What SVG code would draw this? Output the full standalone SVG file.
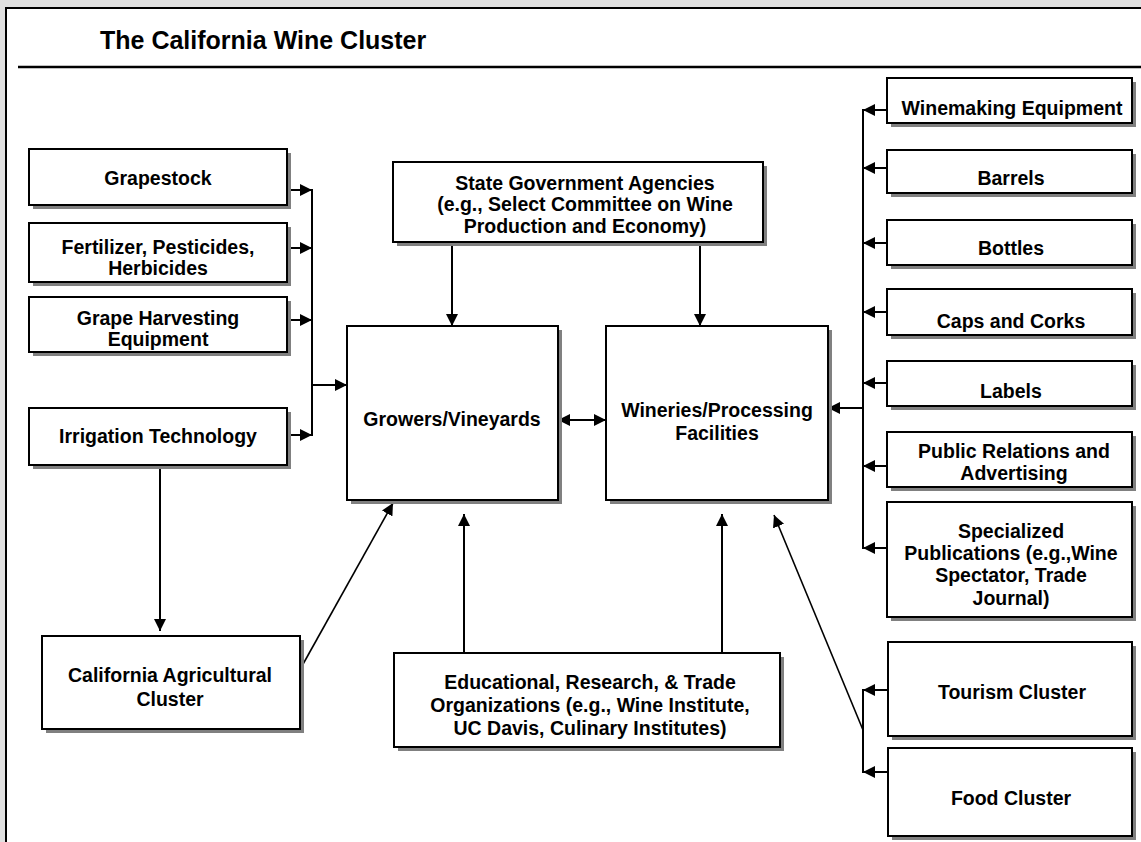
<svg xmlns="http://www.w3.org/2000/svg" width="1141" height="842" viewBox="0 0 1141 842">
  <style>
    .box { fill: #ffffff; stroke: #000000; stroke-width: 2; }
    .shadow { fill: #808080; }
    .lbl { font-family: "Liberation Sans", Arial, sans-serif; font-weight: bold; font-size: 19.5px; fill: #000000; text-anchor: middle; }
    .title { font-family: "Liberation Sans", Arial, sans-serif; font-weight: bold; font-size: 25px; fill: #000000; }
    .wire { stroke: #000000; stroke-width: 2; fill: none; }
    .thin { stroke: #000000; stroke-width: 1.6; fill: none; }
  </style>
  <defs>
    <marker id="ah" viewBox="0 0 12 12" refX="12" refY="6" markerWidth="12" markerHeight="12" markerUnits="userSpaceOnUse" orient="auto-start-reverse">
      <path d="M0,0 L12,6 L0,12 z" fill="#000000"/>
    </marker>
  </defs>

  <!-- page -->
  <rect x="0" y="0" width="1141" height="842" fill="#e0e0e0"/>
  <rect x="6" y="8" width="1150" height="850" fill="#ffffff" stroke="#000000" stroke-width="2"/>
  <text class="title" x="100" y="49">The California Wine Cluster</text>
  <line x1="18" y1="67" x2="1141" y2="67" stroke="#000000" stroke-width="2.5"/>

  <!-- connectors -->
  <g id="connectors">
    <!-- inputs to growers -->
    <line class="wire" x1="287" y1="190" x2="312" y2="190" marker-end="url(#ah)"/>
    <line class="wire" x1="287" y1="248" x2="312" y2="248" marker-end="url(#ah)"/>
    <line class="wire" x1="287" y1="320" x2="312" y2="320" marker-end="url(#ah)"/>
    <line class="wire" x1="287" y1="435" x2="312" y2="435" marker-end="url(#ah)"/>
    <line class="wire" x1="312" y1="189" x2="312" y2="436"/>
    <line class="wire" x1="312" y1="385" x2="347" y2="385" marker-end="url(#ah)"/>
    <!-- government -->
    <line class="wire" x1="452" y1="242" x2="452" y2="326" marker-end="url(#ah)"/>
    <line class="wire" x1="700" y1="242" x2="700" y2="326" marker-end="url(#ah)"/>
    <!-- growers <-> wineries -->
    <line class="wire" x1="558" y1="420" x2="606" y2="420" marker-start="url(#ah)" marker-end="url(#ah)"/>
    <!-- irrigation to agricultural cluster -->
    <line class="wire" x1="160" y1="465" x2="160" y2="631" marker-end="url(#ah)"/>
    <!-- agricultural cluster to growers -->
    <line class="thin" x1="302" y1="666" x2="393" y2="503" marker-end="url(#ah)"/>
    <!-- education -->
    <line class="wire" x1="464" y1="653" x2="464" y2="514" marker-end="url(#ah)"/>
    <line class="wire" x1="722" y1="653" x2="722" y2="514" marker-end="url(#ah)"/>
    <!-- suppliers to wineries -->
    <line class="wire" x1="887" y1="110" x2="863" y2="110" marker-end="url(#ah)"/>
    <line class="wire" x1="887" y1="168" x2="863" y2="168" marker-end="url(#ah)"/>
    <line class="wire" x1="887" y1="243" x2="863" y2="243" marker-end="url(#ah)"/>
    <line class="wire" x1="887" y1="312" x2="863" y2="312" marker-end="url(#ah)"/>
    <line class="wire" x1="887" y1="383" x2="863" y2="383" marker-end="url(#ah)"/>
    <line class="wire" x1="887" y1="466" x2="863" y2="466" marker-end="url(#ah)"/>
    <line class="wire" x1="887" y1="548" x2="863" y2="548" marker-end="url(#ah)"/>
    <line class="wire" x1="863" y1="109" x2="863" y2="549"/>
    <line class="wire" x1="863" y1="408" x2="828" y2="408" marker-end="url(#ah)"/>
    <!-- tourism / food -->
    <line class="wire" x1="888" y1="690" x2="863" y2="690" marker-end="url(#ah)"/>
    <line class="wire" x1="888" y1="772" x2="863" y2="772" marker-end="url(#ah)"/>
    <line class="wire" x1="863" y1="689" x2="863" y2="773"/>
    <line class="thin" x1="863" y1="730" x2="774" y2="515" marker-end="url(#ah)"/>
  </g>

  <!-- supplier nodes, left -->
  <g id="grapestock">
    <rect class="shadow" x="33" y="153" width="258" height="56"/>
    <rect class="box" x="29" y="149" width="258" height="56"/>
    <text class="lbl" x="158" y="185">Grapestock</text>
  </g>
  <g id="fertilizer">
    <rect class="shadow" x="33" y="227" width="258" height="59"/>
    <rect class="box" x="29" y="223" width="258" height="59"/>
    <text class="lbl" x="158" y="254">Fertilizer, Pesticides,</text>
    <text class="lbl" x="158" y="275">Herbicides</text>
  </g>
  <g id="harvesting">
    <rect class="shadow" x="33" y="301" width="258" height="55"/>
    <rect class="box" x="29" y="297" width="258" height="55"/>
    <text class="lbl" x="158" y="325">Grape Harvesting</text>
    <text class="lbl" x="158" y="346">Equipment</text>
  </g>
  <g id="irrigation">
    <rect class="shadow" x="33" y="412" width="258" height="57"/>
    <rect class="box" x="29" y="408" width="258" height="57"/>
    <text class="lbl" x="158" y="443">Irrigation Technology</text>
  </g>
  <g id="agricultural">
    <rect class="shadow" x="46" y="640" width="258" height="93"/>
    <rect class="box" x="42" y="636" width="258" height="93"/>
    <text class="lbl" x="170" y="682">California Agricultural</text>
    <text class="lbl" x="170" y="706">Cluster</text>
  </g>

  <!-- central nodes -->
  <g id="government">
    <rect class="shadow" x="397" y="166" width="370" height="80"/>
    <rect class="box" x="393" y="162" width="370" height="80"/>
    <text class="lbl" x="585" y="190">State Government Agencies</text>
    <text class="lbl" x="585" y="211">(e.g., Select Committee on Wine</text>
    <text class="lbl" x="585" y="233">Production and Economy)</text>
  </g>
  <g id="growers">
    <rect class="shadow" x="351" y="330" width="211" height="174"/>
    <rect class="box" x="347" y="326" width="211" height="174"/>
    <text class="lbl" x="452" y="426">Growers/Vineyards</text>
  </g>
  <g id="wineries">
    <rect class="shadow" x="610" y="330" width="222" height="174"/>
    <rect class="box" x="606" y="326" width="222" height="174"/>
    <text class="lbl" x="717" y="417">Wineries/Processing</text>
    <text class="lbl" x="717" y="440">Facilities</text>
  </g>
  <g id="education">
    <rect class="shadow" x="398" y="657" width="386" height="94"/>
    <rect class="box" x="394" y="653" width="386" height="94"/>
    <text class="lbl" x="590" y="689">Educational, Research, &amp; Trade</text>
    <text class="lbl" x="590" y="712">Organizations (e.g., Wine Institute,</text>
    <text class="lbl" x="590" y="735">UC Davis, Culinary Institutes)</text>
  </g>

  <!-- supplier nodes, right -->
  <g id="winemaking">
    <rect class="shadow" x="891" y="82" width="245" height="45"/>
    <rect class="box" x="887" y="78" width="245" height="45"/>
    <text class="lbl" x="1012" y="115">Winemaking Equipment</text>
  </g>
  <g id="barrels">
    <rect class="shadow" x="891" y="154" width="245" height="43"/>
    <rect class="box" x="887" y="150" width="245" height="43"/>
    <text class="lbl" x="1011" y="185">Barrels</text>
  </g>
  <g id="bottles">
    <rect class="shadow" x="891" y="224" width="245" height="45"/>
    <rect class="box" x="887" y="220" width="245" height="45"/>
    <text class="lbl" x="1011" y="255">Bottles</text>
  </g>
  <g id="caps">
    <rect class="shadow" x="891" y="293" width="245" height="46"/>
    <rect class="box" x="887" y="289" width="245" height="46"/>
    <text class="lbl" x="1011" y="328">Caps and Corks</text>
  </g>
  <g id="labels">
    <rect class="shadow" x="891" y="365" width="245" height="45"/>
    <rect class="box" x="887" y="361" width="245" height="45"/>
    <text class="lbl" x="1011" y="398">Labels</text>
  </g>
  <g id="publicrelations">
    <rect class="shadow" x="891" y="436" width="245" height="55"/>
    <rect class="box" x="887" y="432" width="245" height="55"/>
    <text class="lbl" x="1014" y="458">Public Relations and</text>
    <text class="lbl" x="1014" y="480">Advertising</text>
  </g>
  <g id="publications">
    <rect class="shadow" x="891" y="506" width="245" height="115"/>
    <rect class="box" x="887" y="502" width="245" height="115"/>
    <text class="lbl" x="1011" y="538">Specialized</text>
    <text class="lbl" x="1011" y="560">Publications (e.g.,Wine</text>
    <text class="lbl" x="1011" y="582">Spectator, Trade</text>
    <text class="lbl" x="1011" y="605">Journal)</text>
  </g>
  <g id="tourism">
    <rect class="shadow" x="892" y="646" width="244" height="94"/>
    <rect class="box" x="888" y="642" width="244" height="94"/>
    <text class="lbl" x="1012" y="699">Tourism Cluster</text>
  </g>
  <g id="food">
    <rect class="shadow" x="892" y="752" width="244" height="88"/>
    <rect class="box" x="888" y="748" width="244" height="88"/>
    <text class="lbl" x="1011" y="805">Food Cluster</text>
  </g>
</svg>
